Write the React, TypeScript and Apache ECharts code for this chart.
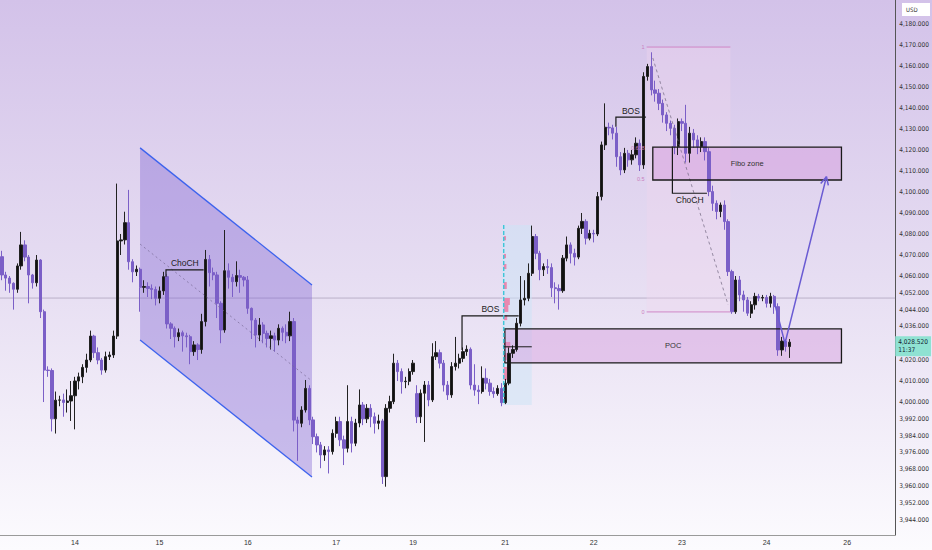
import React, { useEffect, useRef } from "react";
import * as echarts from "echarts";

// ---------- DATA ----------
const SLOT_COUNT = 233;
const categories: string[] = Array.from({ length: SLOT_COUNT }, (_, i) => String(i));

const dayTicks: [number, string][] = [
  [19, "14"], [41, "15"], [64, "16"], [87, "17"], [107, "19"],
  [131, "21"], [154, "22"], [177, "23"], [199, "24"], [220, "26"],
];

const yTicks: number[] = [
  4180, 4170, 4160, 4150, 4140, 4130, 4120, 4110, 4100, 4090, 4080, 4070, 4060,
  4052, 4044, 4036, 4020, 4010, 4000, 3992, 3984, 3976, 3968, 3960, 3952, 3944,
];

// [open, close, low, high]
const candles: number[][] = [
  [4069.2, 4060.5, 4058, 4072], [4060.5, 4059, 4053, 4062], [4059, 4056.5, 4052, 4060], [4056.5, 4053.7, 4044, 4057],
  [4053.7, 4064.8, 4052, 4066], [4064.8, 4074.8, 4063, 4081], [4074.8, 4069, 4067, 4077], [4069, 4060.5, 4047, 4070],
  [4060.5, 4056.8, 4054, 4061], [4056.8, 4067.6, 4055, 4070], [4067.6, 4043, 4040, 4068], [4043, 4015.2, 4000, 4044],
  [4015.2, 4015, 4012, 4017], [4015, 3992, 3986, 4016], [3992, 4000.9, 3985, 4005], [4000.9, 4001, 3998, 4003],
  [4001, 3999.8, 3993, 4004], [3999.8, 4000.5, 3995, 4006], [4000.5, 4003, 3991, 4010], [4003, 4010, 3987, 4012],
  [4010, 4012, 4006, 4014], [4012, 4016.5, 4009, 4018], [4016.5, 4020, 4014, 4023], [4020, 4031.4, 4019, 4034],
  [4031.4, 4023.5, 4021, 4032], [4023.5, 4020, 4018, 4026], [4020, 4015.2, 4013, 4021], [4015.2, 4021.6, 4014, 4024],
  [4021.6, 4022.4, 4020, 4024], [4022.4, 4031.4, 4021, 4034], [4031.4, 4076.7, 4030, 4104], [4076.7, 4077.2, 4070, 4080],
  [4077.2, 4085.4, 4075, 4090.6], [4085.4, 4066.8, 4063, 4101], [4066.8, 4062, 4057, 4068], [4062, 4063.2, 4060, 4065],
  [4063.2, 4054.6, 4043, 4064], [4054.6, 4055, 4052, 4058], [4055, 4054.1, 4050, 4057], [4054.1, 4053.6, 4049, 4056],
  [4053.6, 4049.4, 4046, 4055], [4049.4, 4052.9, 4047, 4055], [4052.9, 4059.7, 4051, 4062], [4059.7, 4037.2, 4035, 4061],
  [4037.2, 4035.1, 4030, 4038], [4035.1, 4031.1, 4026, 4036], [4031.1, 4033, 4029, 4035], [4033, 4031.5, 4024, 4034],
  [4031.5, 4031.1, 4026, 4033], [4031.1, 4024, 4018, 4032], [4024, 4027.2, 4022, 4029], [4027.2, 4025, 4020, 4028],
  [4025, 4038.3, 4023, 4042], [4038.3, 4067.9, 4036, 4072.4], [4067.9, 4061.6, 4055, 4070], [4061.6, 4060.5, 4058, 4064],
  [4060.5, 4047, 4040, 4062], [4047, 4034.3, 4028, 4048], [4034.3, 4062.5, 4033, 4081.9], [4062.5, 4059.4, 4054, 4066],
  [4059.4, 4057.3, 4050, 4061], [4057.3, 4060.2, 4055, 4067], [4060.2, 4059.4, 4052, 4063], [4059.4, 4058.1, 4055, 4060],
  [4058.1, 4044.6, 4042, 4060], [4044.6, 4039, 4030, 4045], [4039, 4031.9, 4026, 4040], [4031.9, 4036.7, 4029, 4040],
  [4036.7, 4032.7, 4028, 4038], [4032.7, 4030.3, 4026, 4034], [4030.3, 4031.5, 4025, 4034], [4031.5, 4029.5, 4024, 4033],
  [4029.5, 4035.1, 4027, 4037], [4035.1, 4033.2, 4029, 4036], [4033.2, 4031.5, 4028, 4037], [4031.5, 4038.3, 4029, 4043],
  [4038.3, 3991.4, 3986, 4040], [3991.4, 3989.9, 3972, 3993], [3989.9, 3996.2, 3988, 3998], [3996.2, 4006.5, 3995, 4010.5],
  [4006.5, 3991.5, 3989, 4008], [3991.5, 3983.5, 3980, 3993], [3983.5, 3979.6, 3976, 3985], [3979.6, 3974.8, 3968.5, 3981],
  [3974.8, 3977.2, 3972, 3979], [3977.2, 3976.4, 3966, 3979], [3976.4, 3985.1, 3975, 3987], [3985.1, 3990.7, 3983, 3993],
  [3990.7, 3982, 3979, 3993], [3982, 3978, 3970, 3984], [3978, 3990.7, 3976, 4008], [3990.7, 3980.4, 3976, 3993],
  [3980.4, 3990, 3979, 3992], [3990, 3998.6, 3988, 4006], [3998.6, 3992, 3989, 4000], [3992, 3997, 3990, 3999],
  [3997, 3993, 3988, 3999], [3993, 3989.9, 3985, 3995], [3989.9, 3991, 3987, 3994], [3991, 3964.5, 3961, 3992],
  [3964.5, 3997, 3959.7, 3999], [3997, 4000.2, 3995, 4003], [4000.2, 4018.5, 3999, 4023], [4018.5, 4014.5, 4010, 4020],
  [4014.5, 4009.7, 4004, 4016], [4009.7, 4009.9, 4006.6, 4012], [4009.9, 4014.5, 4008, 4016], [4014.5, 4018.5, 4013, 4020],
  [4004, 3993, 3990, 4008], [3993, 4004.2, 3990, 4006], [4004.2, 4008.1, 3981, 4010], [4008.1, 4001, 3998, 4010],
  [4001, 4021.6, 4000, 4028], [4021.6, 4023.5, 4020, 4029], [4023.5, 4018.5, 4016, 4025], [4018.5, 4008.1, 4005, 4020],
  [4008.1, 4003.4, 4001, 4010], [4003.4, 4016.9, 4002, 4019], [4016.9, 4018.5, 4015, 4031], [4018.5, 4020.8, 4016, 4023],
  [4020.8, 4024, 4019, 4026], [4024, 4025.1, 4022, 4027], [4025.1, 4008.1, 4006, 4026], [4008.1, 4005.7, 4003, 4018],
  [4005.7, 4005, 3999, 4008], [4005, 4011.3, 4004, 4017], [4011.3, 4009, 4006, 4016], [4009, 4005, 4003, 4011],
  [4005, 4004, 4002, 4007], [4004, 4006.5, 4003, 4008], [4006.5, 3999.7, 3998, 4009], [3999.7, 4009, 3999, 4011],
  [4009, 4023.2, 4008, 4026], [4023.2, 4025, 4021, 4027], [4025, 4037.5, 4024, 4040], [4037.5, 4048.6, 4036, 4060],
  [4048.6, 4049.4, 4046, 4058], [4049.4, 4061.3, 4048, 4066], [4061.3, 4078.8, 4060, 4084], [4078.8, 4070.8, 4068, 4080],
  [4070.8, 4063, 4058, 4072], [4063, 4064.5, 4060, 4066], [4064.5, 4064, 4061, 4068], [4064, 4054.4, 4050, 4066],
  [4054.4, 4054, 4047, 4057], [4054, 4053, 4044, 4056], [4053, 4068.5, 4052, 4070], [4068.5, 4074.8, 4067, 4078.8],
  [4074.8, 4070.8, 4066, 4076], [4070.8, 4069, 4065, 4073], [4069, 4082.7, 4068, 4084], [4082.7, 4086, 4080, 4090],
  [4086, 4078, 4075, 4087], [4078, 4080.3, 4077, 4082], [4080.3, 4080, 4076, 4082], [4080, 4097.8, 4079, 4100],
  [4097.8, 4122.4, 4096, 4124], [4122.4, 4130.8, 4120, 4142.2], [4130.8, 4130.5, 4127, 4133], [4130.5, 4128, 4125, 4132],
  [4128, 4116.8, 4112, 4131], [4116.8, 4110.5, 4108, 4119], [4110.5, 4118.4, 4109, 4121], [4118.4, 4115.3, 4112, 4120],
  [4115.3, 4117.7, 4113, 4120], [4117.7, 4123.2, 4116, 4126], [4123.2, 4112.9, 4110, 4125], [4112.9, 4155, 4111, 4157],
  [4155, 4159.7, 4153, 4161], [4159.7, 4148.6, 4146, 4166.5], [4148.6, 4147, 4143, 4153], [4147, 4142.2, 4139, 4149],
  [4142.2, 4136.7, 4133, 4144], [4136.7, 4132.7, 4129, 4138], [4132.7, 4130.3, 4127, 4134], [4130.3, 4121.6, 4118, 4132],
  [4121.6, 4133.5, 4117.6, 4135], [4133.5, 4132.7, 4129, 4135], [4132.7, 4118.4, 4114, 4141.5], [4118.4, 4128, 4114, 4131],
  [4128, 4124.8, 4121, 4130], [4124.8, 4121.6, 4118, 4127], [4121.6, 4124, 4119, 4126], [4124, 4119.2, 4115, 4126],
  [4119.2, 4100.2, 4098, 4121], [4100.2, 4094.6, 4091, 4103], [4094.6, 4090.7, 4087, 4096], [4090.7, 4093.8, 4088, 4095],
  [4093.8, 4085.9, 4082, 4096], [4085.9, 4062.1, 4060, 4087], [4062.1, 4043, 4042, 4063], [4043, 4058.1, 4042, 4060],
  [4058.1, 4051, 4048, 4060], [4051, 4048.6, 4043, 4053], [4048.6, 4042.3, 4041, 4050], [4042.3, 4046.3, 4040, 4048],
  [4046.3, 4050.3, 4044, 4052], [4050.3, 4049.5, 4048, 4051.5], [4049.5, 4049.8, 4048, 4051], [4049.8, 4047, 4045, 4051],
  [4047, 4050.3, 4045, 4052], [4050.3, 4045.4, 4042, 4051], [4045.4, 4024.8, 4022, 4047], [4024.8, 4029, 4022, 4031],
  [4029, 4026.4, 4024, 4030], [4026.4, 4028.52, 4021, 4030],
];

const lastPrice = 4028.52;
const countdown = "11:37";
const currencyLabel = "USD";

// annotation anchors: [slot index, price]
const channelTop: number[][] = [[35.96, 4121], [80.7, 4055.7]];
const channelBottom: number[][] = [[35.96, 4029.5], [80.7, 3964.3]];
const channelMid: number[][] = [[35.96, 4075.2], [80.7, 4010]];
const horizontalLevel = 4049.5;
const fibX: number[] = [167.8, 189.6];
const fibPrices: number[] = [4169, 4120.8, 4106, 4042.9];
const fibLabels: string[] = ["1", "0.618", "0.5", "0"];
const fibTrend: number[][] = [[169.4, 4163.8], [189, 4046.2]];
const fiboZoneX: number[] = [169.4, 218.5];
const fiboZoneP: number[] = [4121.4, 4105.7];
const pocZoneX: number[] = [130.9, 218.5];
const pocZoneP: number[] = [4034.8, 4018.6];
const choch1: number[][] = [[42.7, 4059.7], [42.7, 4062.9], [52.5, 4062.9]];
const bos1: number[][] = [[119.75, 4024.8], [119.75, 4041], [134.5, 4041]];
const bos2: number[][] = [[159.8, 4131], [159.8, 4135.6], [167.6, 4135.6]];
const choch2: number[][] = [[174.5, 4121.6], [174.5, 4099.4], [183.5, 4099.4]];
const arrowPath: number[][] = [[200.9, 4048.6], [203.8, 4027.9], [214.6, 4107.3]];
const vpX: number[] = [130.1, 137.9];
const vpP: number[] = [4084.3, 3998.6];
const vpLineX = 130.6;
const vpPocLine: number[][] = [[130.6, 4026.3], [137.9, 4026.3]];
// [price top, price bottom, width in slots]
const vpBars: number[][] = [
  [4079, 4077, 0.6], [4070.5, 4068.5, 0.6], [4065.7, 4063.3, 0.7], [4057.1, 4053.8, 0.8],
  [4049.5, 4046.2, 1.6], [4046.2, 4042.9, 1.2], [4041.4, 4039, 0.9], [4028.6, 4025.7, 1.7],
  [4023.3, 4020, 1.2], [4016.7, 4010.5, 1.0], [4007, 4004.3, 0.8],
];

const fmtPrice = (v: number) =>
  v.toLocaleString("en-US", { minimumFractionDigits: 3, maximumFractionDigits: 3 });

const FONT = "Liberation Sans";

export default function App() {
  const ref = useRef<HTMLDivElement>(null);

  useEffect(() => {
    document.body.style.margin = "0";
    if (!ref.current) return;
    const chart = echarts.init(ref.current, undefined, { renderer: "svg" });

    const line = (a: number[], b: number[], stroke: string, lineWidth = 1, dash?: number[]) => ({
      type: "line",
      shape: { x1: a[0], y1: a[1], x2: b[0], y2: b[1] },
      style: { stroke, lineWidth, lineDash: dash },
    });
    const text = (p: number[], t: string, size: number, fill: string, align = "center", vAlign = "middle") => ({
      type: "text",
      x: p[0],
      y: p[1],
      style: { text: t, fill, fontSize: size, fontFamily: FONT, align, verticalAlign: vAlign },
    });

    const renderBack = (_params: any, api: any) => {
      const c = (x: number, p: number) => api.coord([x, p]);
      const rectOf = (x0: number, x1: number, pTop: number, pBot: number, style: any) => {
        const a = c(x0, pTop);
        const b = c(x1, pBot);
        return { type: "rect", shape: { x: a[0], y: a[1], width: b[0] - a[0], height: b[1] - a[1] }, style };
      };
      const children: any[] = [];
      children.push(line(c(-0.5, horizontalLevel), c(232.5, horizontalLevel), "rgba(150,140,165,0.55)", 1));
      children.push(rectOf(fibX[0], fibX[1], fibPrices[0], fibPrices[3], { fill: "rgba(240,214,238,0.35)" }));
      children.push({
        type: "polygon",
        shape: { points: [c(channelTop[0][0], channelTop[0][1]), c(channelTop[1][0], channelTop[1][1]), c(channelBottom[1][0], channelBottom[1][1]), c(channelBottom[0][0], channelBottom[0][1])] },
        style: { fill: "rgba(126,96,210,0.38)" },
      });
      children.push(rectOf(vpX[0], vpX[1], vpP[0], vpP[1], { fill: "rgba(205,228,246,0.55)" }));
      vpBars.forEach((b) => {
        children.push(rectOf(vpLineX, vpLineX + b[2], b[0], b[1], { fill: "rgba(240,98,146,0.7)" }));
      });
      children.push(rectOf(fiboZoneX[0], fiboZoneX[1], fiboZoneP[0], fiboZoneP[1], { fill: "rgba(212,150,220,0.45)" }));
      children.push(rectOf(pocZoneX[0], pocZoneX[1], pocZoneP[0], pocZoneP[1], { fill: "rgba(212,150,220,0.42)" }));
      return { type: "group", children };
    };

    const renderFront = (_params: any, api: any) => {
      const c = (x: number, p: number) => api.coord([x, p]);
      const pts = (arr: number[][]) => arr.map((q) => c(q[0], q[1]));
      const children: any[] = [];
      children.push(line(c(channelTop[0][0], channelTop[0][1]), c(channelTop[1][0], channelTop[1][1]), "#3d63ee", 1.3));
      children.push(line(c(channelBottom[0][0], channelBottom[0][1]), c(channelBottom[1][0], channelBottom[1][1]), "#3d63ee", 1.3));
      children.push(line(c(channelMid[0][0], channelMid[0][1]), c(channelMid[1][0], channelMid[1][1]), "rgba(120,105,150,0.7)", 1, [2, 3]));
      children.push(line(c(fibX[0], fibPrices[0]), c(fibX[1], fibPrices[0]), "#cf86c6", 1));
      children.push(line(c(fibX[0], fibPrices[3]), c(fibX[1], fibPrices[3]), "#cf86c6", 1));
      fibPrices.forEach((p, i) => {
        const q = c(fibX[0], p);
        children.push(text([q[0] - 2, q[1]], fibLabels[i], 5.5, "#c97fbe", "right"));
      });
      children.push(line(c(fibTrend[0][0], fibTrend[0][1]), c(fibTrend[1][0], fibTrend[1][1]), "rgba(120,110,135,0.75)", 1, [3, 3]));
      const box = (xs: number[], ps: number[]) => {
        const a = c(xs[0], ps[0]);
        const b = c(xs[1], ps[1]);
        return { type: "rect", shape: { x: a[0], y: a[1], width: b[0] - a[0], height: b[1] - a[1] }, style: { fill: "none", stroke: "#1a1a1a", lineWidth: 1.3 } };
      };
      children.push(box(fiboZoneX, fiboZoneP));
      children.push(box(pocZoneX, pocZoneP));
      children.push(text(c((fiboZoneX[0] + fiboZoneX[1]) / 2, (fiboZoneP[0] + fiboZoneP[1]) / 2), "Fibo zone", 7.5, "#333"));
      children.push(text(c((pocZoneX[0] + pocZoneX[1]) / 2, (pocZoneP[0] + pocZoneP[1]) / 2), "POC", 7.5, "#333"));
      const poly = (arr: number[][]) => ({ type: "polyline", shape: { points: pts(arr) }, style: { stroke: "#1a1a1a", lineWidth: 1.2, fill: "none" } });
      children.push(poly(choch1));
      children.push(poly(bos1));
      children.push(poly(bos2));
      children.push(poly(choch2));
      const mid = (a: number[], b: number[]) => c((a[0] + b[0]) / 2, a[1]);
      const t1 = mid(choch1[1], choch1[2]);
      children.push(text([t1[0], t1[1] - 2], "ChoCH", 8.5, "#222", "center", "bottom"));
      const t2 = mid(bos1[1], bos1[2]);
      children.push(text([t2[0], t2[1] - 2], "BOS", 8.5, "#222", "center", "bottom"));
      const t3 = mid(bos2[1], bos2[2]);
      children.push(text([t3[0], t3[1] - 2], "BOS", 8.5, "#222", "center", "bottom"));
      const t4 = mid(choch2[1], choch2[2]);
      children.push(text([t4[0], t4[1] + 2], "ChoCH", 8.5, "#222", "center", "top"));
      children.push(line(c(vpLineX, vpP[0]), c(vpLineX, vpP[1]), "#3cc6d8", 1.4, [4, 2]));
      children.push(line(c(vpPocLine[0][0], vpPocLine[0][1]), c(vpPocLine[1][0], vpPocLine[1][1]), "#1a1a1a", 1));
      const ap = pts(arrowPath);
      children.push({ type: "polyline", shape: { points: ap }, style: { stroke: "#6a5bd3", lineWidth: 1.5, fill: "none" } });
      const tip = ap[ap.length - 1];
      const prev = ap[ap.length - 2];
      const dx = tip[0] - prev[0];
      const dy = tip[1] - prev[1];
      const len = Math.sqrt(dx * dx + dy * dy);
      const ux = -dx / len;
      const uy = -dy / len;
      const wing = (ang: number) => {
        const ca = Math.cos(ang);
        const sa = Math.sin(ang);
        return [tip[0] + 9 * (ux * ca - uy * sa), tip[1] + 9 * (ux * sa + uy * ca)];
      };
      children.push(line(tip, wing(0.45), "#6a5bd3", 1.5));
      children.push(line(tip, wing(-0.45), "#6a5bd3", 1.5));
      return { type: "group", children };
    };

    chart.setOption({
      animation: false,
      backgroundColor: "transparent",
      grid: { left: 0, right: 31, top: 0, bottom: 15, containLabel: false },
      xAxis: [
        {
          type: "category",
          data: categories,
          boundaryGap: true,
          axisLine: { show: true, onZero: false, lineStyle: { color: "#9a9a9a", width: 1 } },
          axisTick: { show: false },
          splitLine: { show: false },
          axisLabel: {
            interval: (i: number) => dayTicks.some((d) => d[0] === i),
            formatter: (_v: string, i: number) => {
              const d = dayTicks.find((t) => t[0] === i);
              return d ? d[1] : "";
            },
            fontSize: 7,
            color: "#333",
            margin: 4,
            fontFamily: FONT,
          },
        },
        { type: "value", min: -0.5, max: SLOT_COUNT - 0.5, show: false },
      ],
      yAxis: {
        type: "value",
        position: "right",
        min: 3936.7,
        max: 4191.4,
        splitLine: { show: false },
        axisLine: { show: true, onZero: false, lineStyle: { color: "#555", width: 1 } },
        axisTick: { show: false },
        axisLabel: {
          customValues: yTicks,
          formatter: (v: number) => fmtPrice(v),
          fontSize: 6.5,
          color: "#333",
          margin: 4,
          fontFamily: "DejaVu Sans Condensed",
        },
      },
      graphic: [
        {
          type: "group",
          right: 2,
          top: 3,
          children: [
            { type: "rect", shape: { x: 0, y: 0, width: 28, height: 13 }, style: { fill: "#ffffff" } },
            { type: "text", x: 4, y: 6.5, style: { text: currencyLabel, fontSize: 6, fill: "#333", verticalAlign: "middle", fontFamily: "DejaVu Sans Condensed" } },
          ],
        },
      ],
      series: [
        {
          type: "custom",
          xAxisIndex: 1,
          yAxisIndex: 0,
          z: 1,
          silent: true,
          data: [[0, 4000]],
          renderItem: renderBack,
        },
        {
          type: "candlestick",
          xAxisIndex: 0,
          yAxisIndex: 0,
          z: 3,
          barWidth: 2.8,
          data: candles,
          itemStyle: {
            color: "#111111",
            color0: "#7b5fc7",
            borderColor: "#222222",
            borderColor0: "#7b5fc7",
            borderWidth: 1,
          },
          markLine: {
            silent: true,
            symbol: "none",
            lineStyle: { color: "transparent", width: 0 },
            data: [{ yAxis: lastPrice }],
            label: {
              show: true,
              position: "end",
              distance: 0,
              offset: [0, 4],
              formatter: `{a|${fmtPrice(lastPrice)}}\n{b|${countdown}}`,
              backgroundColor: "#8fe2d2",
              padding: [2, 3, 2, 3],
              rich: {
                a: { fontSize: 6.5, color: "#123", fontFamily: "DejaVu Sans Condensed", lineHeight: 8 },
                b: { fontSize: 6.5, color: "#123", fontFamily: "DejaVu Sans Condensed", lineHeight: 8 },
              },
            },
          },
        },
        {
          type: "custom",
          xAxisIndex: 1,
          yAxisIndex: 0,
          z: 5,
          silent: true,
          data: [[0, 4000]],
          renderItem: renderFront,
        },
      ],
    });

    return () => chart.dispose();
  }, []);

  return (
    <div
      ref={ref}
      style={{
        width: 932,
        height: 550,
        background: "linear-gradient(180deg, #d3c2e9 0%, #e6ddf2 50%, #fcfbfe 100%)",
      }}
    />
  );
}
